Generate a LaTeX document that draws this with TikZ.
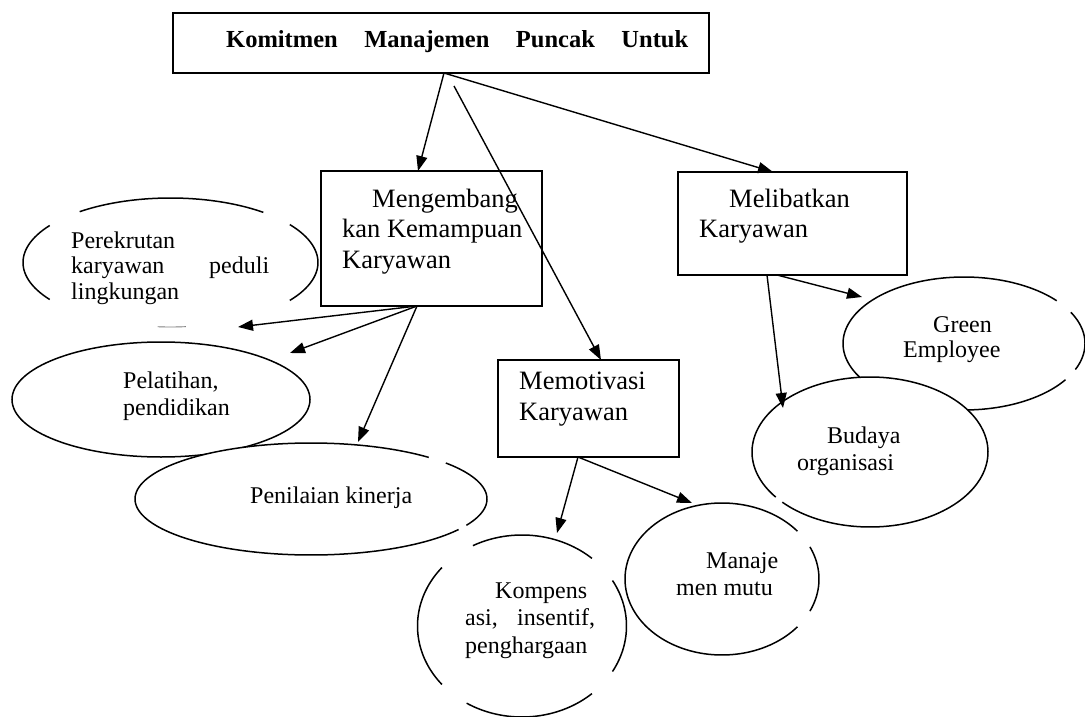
\documentclass[tikz,border=0pt]{standalone}
\usepackage{fontspec}
\setmainfont{Liberation Serif}
\usetikzlibrary{shapes.geometric,arrows.meta}
\tikzset{
  box/.style={draw, line width=1.6pt, fill=white, rectangle, inner sep=0pt},
  ell/.style={draw, line width=1.5pt, fill=white, ellipse, inner sep=0pt},
  hid/.style={ellipse, inner sep=0pt},
  arc/.style={line width=1.5pt},
  arr/.style={-{Triangle[length=15pt,width=11pt]}, line width=1.4pt},
  btxt/.style={inner sep=0pt, anchor=base west, font=\fontsize{26.5}{30.5}\selectfont},
  etxt/.style={inner sep=0pt, anchor=base west, font=\fontsize{24}{27}\selectfont},
}
\begin{document}
\begin{tikzpicture}[x=1pt,y=-1pt]
\useasboundingbox (0,0) rectangle (1085,717);

% ---------- ellipses ----------
% Perekrutan (drawn with gaps)
\node[hid, minimum width=295pt, minimum height=129pt] (perek) at (170.5,262.5) {};
\draw[arc] plot[domain=-128:-51, samples=40] ({170.5+147.5*cos(\x)},{262.5+64.5*sin(\x)});
\draw[arc] plot[domain=-36:36, samples=30] ({170.5+147.5*cos(\x)},{262.5+64.5*sin(\x)});
\draw[arc] plot[domain=145:215, samples=30] ({170.5+147.5*cos(\x)},{262.5+64.5*sin(\x)});
\draw[line width=0.9pt, black!50] plot[domain=84:95, samples=8] ({170.5+147.5*cos(\x)},{262.5+64.5*sin(\x)});

% Pelatihan
\node[ell, minimum width=298pt, minimum height=115pt] (pel) at (161,399.5) {};
% Penilaian
\node[hid, minimum width=352pt, minimum height=112pt] (penil) at (311,499) {};
\fill[white] (311,499) ellipse [x radius=176, y radius=56];
\draw[arc] plot[domain=-40:28, samples=40] ({311+176*cos(\x)},{499+56*sin(\x)});
\draw[arc] plot[domain=33:312, samples=120] ({311+176*cos(\x)},{499+56*sin(\x)});

% Kompensasi
\node[hid, minimum width=209pt, minimum height=182pt] (komp) at (522,626) {};
\fill[white] (522,626) ellipse [x radius=104.5, y radius=91];
\draw[arc] plot[domain=-118:-48, samples=40] ({522+104.5*cos(\x)},{626+91*sin(\x)});
\draw[arc] plot[domain=-30:30, samples=30] ({522+104.5*cos(\x)},{626+91*sin(\x)});
\draw[arc] plot[domain=48:122, samples=40] ({522+104.5*cos(\x)},{626+91*sin(\x)});
\draw[arc] plot[domain=140:220, samples=40] ({522+104.5*cos(\x)},{626+91*sin(\x)});

% Manajemen mutu
\node[hid, minimum width=194pt, minimum height=152pt] (mutu) at (722,579) {};
\fill[white] (722,579) ellipse [x radius=97, y radius=76];
\draw[arc] plot[domain=-25:25, samples=30] ({722+97*cos(\x)},{579+76*sin(\x)});
\draw[arc] plot[domain=39:321, samples=120] ({722+97*cos(\x)},{579+76*sin(\x)});

% Green Employee
\node[hid, minimum width=242pt, minimum height=133pt] (green) at (964,343.5) {};
\fill[white] (964,343.5) ellipse [x radius=121, y radius=66.5];
\draw[arc] plot[domain=-28:23, samples=30] ({964+121*cos(\x)},{343.5+66.5*sin(\x)});
\draw[arc] plot[domain=33:320, samples=120] ({964+121*cos(\x)},{343.5+66.5*sin(\x)});

% Budaya organisasi
\node[hid, minimum width=236pt, minimum height=150pt] (budaya) at (870,452) {};
\fill[white] (870,452) ellipse [x radius=118, y radius=75];
\draw[arc] plot[domain=-217:138, samples=150] ({870+118*cos(\x)},{452+75*sin(\x)});

% ---------- boxes ----------
\node[box, minimum width=536pt, minimum height=60pt] (top) at (441,43) {};
\node[box, minimum width=221pt, minimum height=135pt] (meng) at (431.5,238.5) {};
\node[box, minimum width=229pt, minimum height=103pt] (melib) at (792.5,223.5) {};
\node[box, minimum width=181pt, minimum height=97pt] (motiv) at (588.5,408.5) {};

% ---------- connector end points ----------
\coordinate (o1) at (444,73);
\coordinate (o2) at (454,86);
\coordinate (mengIn) at (418,171);
\coordinate (melibIn) at (773,172);
\coordinate (motivIn) at (601,360);
\coordinate (mengOut) at (417,306);
\coordinate (perekIn) at (238,327);
\coordinate (pelIn) at (290,353);
\coordinate (penilIn) at (358,442);
\coordinate (motivOut) at (578,457);
\coordinate (kompIn) at (557,533);
\coordinate (mutuIn) at (692,503);
\coordinate (melibOutA) at (777,275);
\coordinate (melibOutB) at (767,275);
\coordinate (greenIn) at (862,297);
\coordinate (budayaIn) at (783,408);

% ---------- connectors ----------
\draw[arr] (o1) -- (mengIn);
\draw[arr] (o1) -- (melibIn);
\draw[arr] (o2) -- (motivIn);
\draw[arr] (mengOut) -- (perekIn);
\draw[arr] (mengOut) -- (pelIn);
\draw[arr] (mengOut) -- (penilIn);
\draw[arr] (motivOut) -- (kompIn);
\draw[arr] (motivOut) -- (mutuIn);
\draw[arr] (melibOutA) -- (greenIn);
\draw[arr] (melibOutB) -- (budayaIn);

% ---------- texts ----------
\node[inner sep=0pt, anchor=base west, font=\fontsize{24.5}{28}\selectfont\bfseries] (topT) at (226,48)
  {\makebox[462pt][s]{Komitmen Manajemen Puncak Untuk}};
\node[btxt] (mengT) at (342,207)
  {\parbox[t]{200pt}{\raggedright\hspace*{30pt}Mengembang\\kan Kemampuan\\Karyawan}};
\node[btxt, font=\fontsize{26.5}{30}\selectfont] (melibT) at (699,207)
  {\parbox[t]{200pt}{\raggedright\hspace*{30pt}Melibatkan\\Karyawan}};
\node[btxt, font=\fontsize{26.5}{31}\selectfont] (motivT) at (519,389)
  {\parbox[t]{150pt}{\raggedright Memotivasi\\Karyawan}};
\node[etxt, font=\fontsize{24}{25.5}\selectfont] (perekT) at (71,248)
  {\parbox[t]{220pt}{\raggedright Perekrutan\\\makebox[198pt][s]{karyawan peduli}\\lingkungan}};
\node[etxt] (pelT) at (123,388)
  {\parbox[t]{150pt}{\raggedright Pelatihan,\\pendidikan}};
\node[etxt] (penilT) at (250,503) {Penilaian kinerja};
\node[etxt, font=\fontsize{24}{27.5}\selectfont] (kompT) at (465,598)
  {\parbox[t]{140pt}{\raggedright\makebox[122pt][r]{Kompens}\\\makebox[130pt][s]{asi, insentif,}\\penghargaan}};
\node[etxt] (mutuT) at (676,568)
  {\parbox[t]{140pt}{\raggedright\hspace*{30pt}Manaje\\men mutu}};
\node[etxt, font=\fontsize{24}{25}\selectfont] (greenT) at (903,332)
  {\parbox[t]{140pt}{\raggedright\hspace*{30pt}Green\\Employee}};
\node[etxt] (budayaT) at (797,443)
  {\parbox[t]{140pt}{\raggedright\hspace*{30pt}Budaya\\organisasi}};
\end{tikzpicture}
\end{document}
